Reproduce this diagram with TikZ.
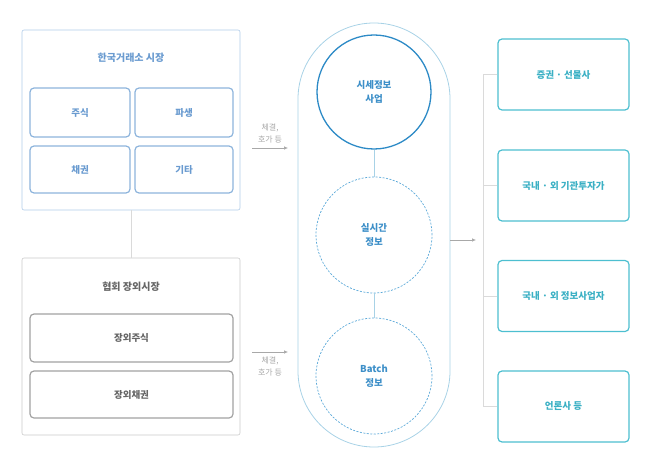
\documentclass[tikz,border=0pt]{standalone}
\usepackage{fontspec}
\setmainfont{Noto Sans CJK KR}
\usetikzlibrary{arrows.meta,calc,positioning}
\definecolor{krxline}{HTML}{AFCBE8}
\definecolor{krxbox}{HTML}{8DB4DC}
\definecolor{krxtext}{HTML}{6A9BD0}
\definecolor{otcline}{HTML}{CACACA}
\definecolor{otcbox}{HTML}{A2A2A2}
\definecolor{otctext}{HTML}{666666}
\definecolor{capline}{HTML}{A8D2E6}
\definecolor{circline}{HTML}{2C8AC6}
\definecolor{dashline}{HTML}{5AA8D8}
\definecolor{circtext}{HTML}{3D8FC8}
\definecolor{userline}{HTML}{4DBFD0}
\definecolor{usertext}{HTML}{3BB0C4}
\definecolor{wire}{HTML}{DADADA}
\definecolor{arrowgray}{HTML}{A8A8A8}

\begin{document}
\begin{tikzpicture}[x=1pt,y=-1pt]

    \tikzset{
      market/.style={
        draw,
        rectangle,
        rounded corners=2pt,
        line width=0.6pt,
        inner sep=0pt,
      },
      item/.style={
        draw,
        rectangle,
        rounded corners=4pt,
        line width=1.2pt,
        inner sep=0pt,
        font=\fontsize{9.5}{11}\selectfont\bfseries,
      },
      title/.style={font=\fontsize{10}{12}\selectfont\bfseries},
      info/.style={
        draw=dashline,
        circle,
        dash pattern=on 2pt off 1.5pt,
        line width=0.7pt,
        minimum size=116pt,
        inner sep=0pt,
        align=center,
        text=circtext,
        font=\fontsize{9.5}{14}\selectfont\bfseries,
      },
      user/.style={
        item,
        draw=userline,
        text=usertext,
        minimum width=131pt,
        minimum height=71pt,
      },
      wireline/.style={draw=wire,line width=0.7pt},
      feed/.style={draw=arrowgray,line width=0.6pt,-{Latex[length=4pt,width=3.5pt]}},
      feedlabel/.style={text=arrowgray,align=center,font=\fontsize{8}{12}\selectfont},
    }
    \useasboundingbox (0,0) rectangle (658,465);

    % left: markets
    \node[market,draw=krxline,minimum width=218pt,minimum height=180pt] (krx) at (131,120) {};
    \node[title,text=krxtext] (krxtitle) at (131,58) {한국거래소 시장};
    \node[item,draw=krxbox,text=krxtext,minimum width=100pt,minimum height=49pt] (stock) at (80,112.5) {주식};
    \node[item,draw=krxbox,text=krxtext,minimum width=98pt,minimum height=49pt] (deriv) at (184,112.5) {파생};
    \node[item,draw=krxbox,text=krxtext,minimum width=100pt,minimum height=47pt] (bond) at (80,169.5) {채권};
    \node[item,draw=krxbox,text=krxtext,minimum width=98pt,minimum height=47pt] (other) at (184,169.5) {기타};

    \node[market,draw=otcline,minimum width=218pt,minimum height=177pt] (otc) at (131,346.5) {};
    \node[title,text=otctext] (otctitle) at (131,287) {협회 장외시장};
    \node[item,draw=otcbox,text=otctext,minimum width=203pt,minimum height=48pt] (otcstock) at (131.5,338) {장외주식};
    \node[item,draw=otcbox,text=otctext,minimum width=203pt,minimum height=47pt] (otcbond) at (131.5,394.5) {장외채권};

    \draw[wireline] (krx.south) -- (otc.north);

    % middle: information business
    \node[draw=capline,rectangle,rounded corners=76pt,line width=0.8pt,minimum width=152pt,minimum height=424pt] (biz) at (374,235) {};
    \node[draw=circline,circle,line width=1.3pt,minimum size=114pt,inner sep=0pt,align=center,text=circtext,font=\fontsize{9.5}{14}\selectfont\bfseries] (market) at (374,92) {시세정보\\사업};
    \node[info] (realtime) at (374,235) {실시간\\정보};
    \node[info] (batch) at (374,376) {Batch\\정보};
    \draw[draw=capline,line width=0.8pt] (market.south) -- (realtime.north);
    \draw[draw=capline,line width=0.8pt] (realtime.south) -- (batch.north);

    \coordinate (in1) at (252,148);
    \coordinate (in1e) at (288,148);
    \coordinate (in2) at (252,352);
    \coordinate (in2e) at (288,352);
    \draw[feed] (in1) -- (in1e);
    \draw[feed] (in2) -- (in2e);
    \node[feedlabel,above=1pt of $(in1)!0.5!(in1e)$] (lab1) {체결,\\호가 등};
    \node[feedlabel,below=1pt of $(in2)!0.5!(in2e)$] (lab2) {체결,\\호가 등};

    % right: users
    \node[user] (broker) at (563.5,74.5) {증권 · 선물사};
    \node[user] (inst) at (563.5,185.5) {국내 · 외 기관투자가};
    \node[user] (vendor) at (563.5,296) {국내 · 외 정보사업자};
    \node[user] (press) at (563.5,406.5) {언론사 등};

    \coordinate (out) at (450,240);
    \coordinate (oute) at (476,240);
    \draw[feed] (out) -- (oute);
    \draw[wireline] (broker.west) -- ++(-14,0) coordinate (bar) -- (bar |- press.west) -- (press.west);
    \draw[wireline] (inst.west) -- (inst.west -| bar);
    \draw[wireline] (vendor.west) -- (vendor.west -| bar);

\end{tikzpicture}
\end{document}
